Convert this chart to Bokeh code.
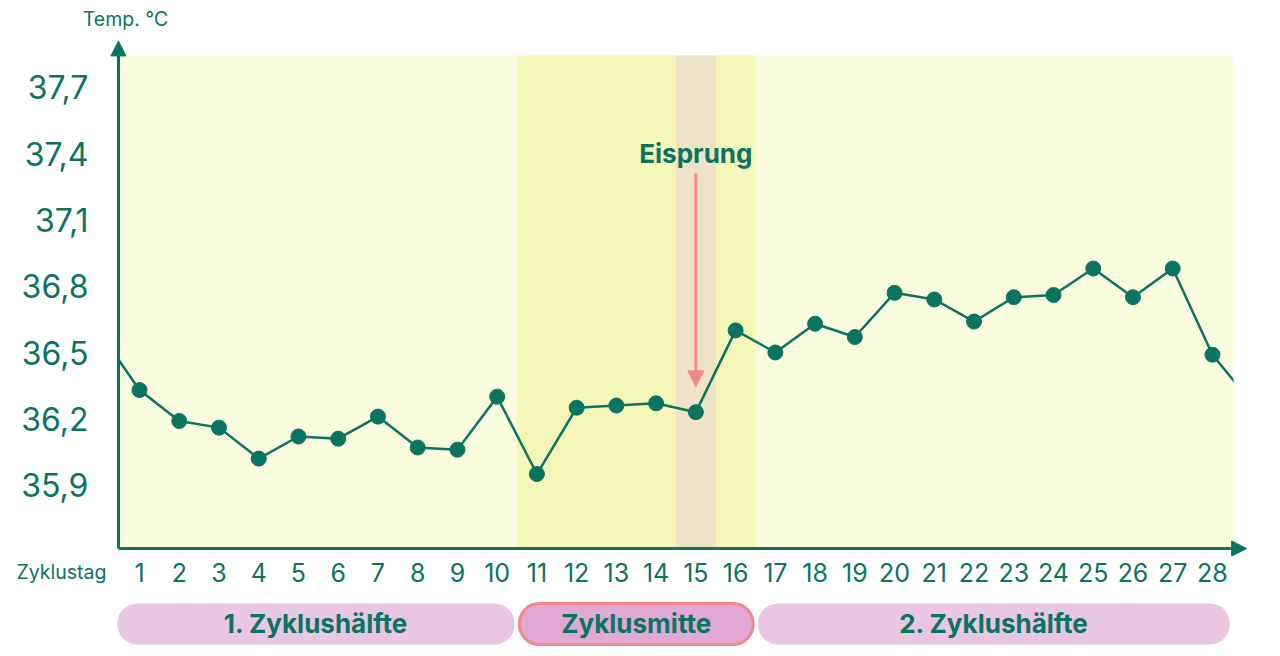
from bokeh.plotting import figure
from bokeh.models import Range1d, FixedTicker, Arrow, NormalHead, Label, BoxAnnotation
from bokeh.embed import file_html
from bokeh.resources import INLINE

# ---- data ----
# day 0 = last day of previous cycle, day 29 = first day of next cycle (line runs off the chart)
days = list(range(0, 30))
temps = [36.59, 36.33, 36.19, 36.16, 36.02, 36.12, 36.11, 36.21, 36.07, 36.06,
         36.30, 35.95, 36.25, 36.26, 36.27, 36.23, 36.60, 36.50, 36.63, 36.57,
         36.77, 36.74, 36.64, 36.75, 36.76, 36.88, 36.75, 36.88, 36.49, 36.27]
cycle_days = list(range(1, 29))
cycle_temps = temps[1:29]
ytick_labels = ["35,9", "36,2", "36,5", "36,8", "37,1", "37,4", "37,7"]
ytick_values = [float(s.replace(",", ".")) for s in ytick_labels]
phases = ["1. Zyklushälfte", "Zyklusmitte", "2. Zyklushälfte"]
phase_start = [1, 11, 17]
phase_end = [10, 16, 28]
ovulation_day = 15
y_label = "Temp. °C"
x_label = "Zyklustag"
ovulation_label = "Eisprung"

# ---- styles ----
TEAL = "#0B7461"
BASE_BG = "#FAFCDE"
MID_BG = "#F5F7B9"
OV_BG = "#EDE3C6"
PILL = "#E9C6E2"
PILL_MID = "#DFA9D3"
PINK = "#F4878B"
FONT = "Inter"

# chart area (data units) and whole canvas (data units)
bx0, bx1 = 0.47, 28.53
by0, by1 = 35.613, 37.844
W, H = 1264, 648

p = figure(width=W, height=H, x_range=Range1d(-2.498, 29.309), y_range=Range1d(35.1606, 38.0928),
           output_backend="svg", toolbar_location=None,
           min_border_left=0, min_border_right=0, min_border_top=0, min_border_bottom=0)
p.background_fill_color = "white"
p.border_fill_color = "white"
p.outline_line_color = None
p.grid.visible = False

# background + phase bands
p.add_layout(BoxAnnotation(left=bx0, right=bx1, bottom=by0, top=by1,
                           fill_color=BASE_BG, fill_alpha=1, line_color=None, level="underlay"))
p.add_layout(BoxAnnotation(left=phase_start[1] - 0.5, right=phase_end[1] + 0.5, bottom=by0, top=by1,
                           fill_color=MID_BG, fill_alpha=1, line_color=None, level="underlay"))
p.add_layout(BoxAnnotation(left=ovulation_day - 0.5, right=ovulation_day + 0.5, bottom=by0, top=by1,
                           fill_color=OV_BG, fill_alpha=1, line_color=None, level="underlay"))

# data
p.line(days, temps, line_color=TEAL, line_width=2.5)
p.scatter(cycle_days, cycle_temps, size=15, fill_color=TEAL, line_color=TEAL)

# the temperature curve is cut at the edges of the chart area
p.quad(left=[-2.498, bx1], right=[bx0, 29.309], bottom=[by0, by0], top=[by1, by1],
       fill_color="white", line_color=None)

# axes, fixed on the chart area edges
p.yaxis.fixed_location = bx0
p.yaxis.bounds = (by0, by1)
p.xaxis.fixed_location = by0
p.xaxis.bounds = (bx0, bx1)
p.yaxis.ticker = FixedTicker(ticks=ytick_values)
p.yaxis.major_label_overrides = {v: s for v, s in zip(ytick_values, ytick_labels)}
p.xaxis.ticker = FixedTicker(ticks=cycle_days)
for ax in (p.xaxis, p.yaxis):
    ax.axis_line_color = TEAL
    ax.axis_line_width = 3
    ax.major_tick_line_color = None
    ax.minor_tick_line_color = None
    ax.major_label_text_color = TEAL
    ax.major_label_text_font = FONT
p.yaxis.major_label_text_font_size = "32px"
p.yaxis.major_label_standoff = 24
p.xaxis.major_label_text_font_size = "25px"
p.xaxis.major_label_standoff = 8

# axis arrowheads
p.add_layout(Arrow(x_start=bx0, y_start=by1 - 0.05, x_end=bx0, y_end=37.91,
                   line_color=TEAL, line_width=3,
                   end=NormalHead(size=15, fill_color=TEAL, line_color=TEAL)))
p.add_layout(Arrow(x_start=bx1 - 0.3, y_start=by0, x_end=28.86, y_end=by0,
                   line_color=TEAL, line_width=3,
                   end=NormalHead(size=15, fill_color=TEAL, line_color=TEAL)))

# axis titles
p.add_layout(Label(x=bx0, y=38.011, x_offset=7, text=y_label, text_align="center",
                   text_baseline="middle", text_color=TEAL, text_font=FONT, text_font_size="19.5px"))
p.add_layout(Label(x=bx0, y=35.509, x_offset=-12, text=x_label, text_align="right",
                   text_baseline="middle", text_color=TEAL, text_font=FONT, text_font_size="19.5px"))

# ovulation marker
p.add_layout(Label(x=ovulation_day, y=37.40, text=ovulation_label, text_align="center",
                   text_baseline="middle", text_color=TEAL, text_font=FONT,
                   text_font_style="bold", text_font_size="26px"))
p.add_layout(Arrow(x_start=ovulation_day, y_start=37.31, x_end=ovulation_day, y_end=36.345,
                   line_color=PINK, line_width=3,
                   end=NormalHead(size=16, fill_color=PINK, line_color=PINK)))

# ---- phase pills ----
pill_bottom, pill_top = 35.179, 35.364
for i, name in enumerate(phases):
    left = phase_start[i] - 0.5 + 0.06
    right = phase_end[i] + 0.5 - 0.06
    if i == 0:
        left = bx0 - 0.03
    if i == 1:
        p.add_layout(BoxAnnotation(left=left, right=right, bottom=pill_bottom, top=pill_top,
                                   border_radius=20, fill_color=PILL_MID, fill_alpha=1,
                                   line_color=PINK, line_width=3, line_alpha=1))
    else:
        p.add_layout(BoxAnnotation(left=left, right=right, bottom=pill_bottom, top=pill_top,
                                   border_radius=20, fill_color=PILL, fill_alpha=1, line_color=None))
    p.add_layout(Label(x=(left + right) / 2, y=(pill_bottom + pill_top) / 2, text=name,
                       text_align="center", text_baseline="middle", text_color=TEAL,
                       text_font=FONT, text_font_style="bold", text_font_size="26px"))

open("out.html", "w").write(file_html(p, INLINE))
